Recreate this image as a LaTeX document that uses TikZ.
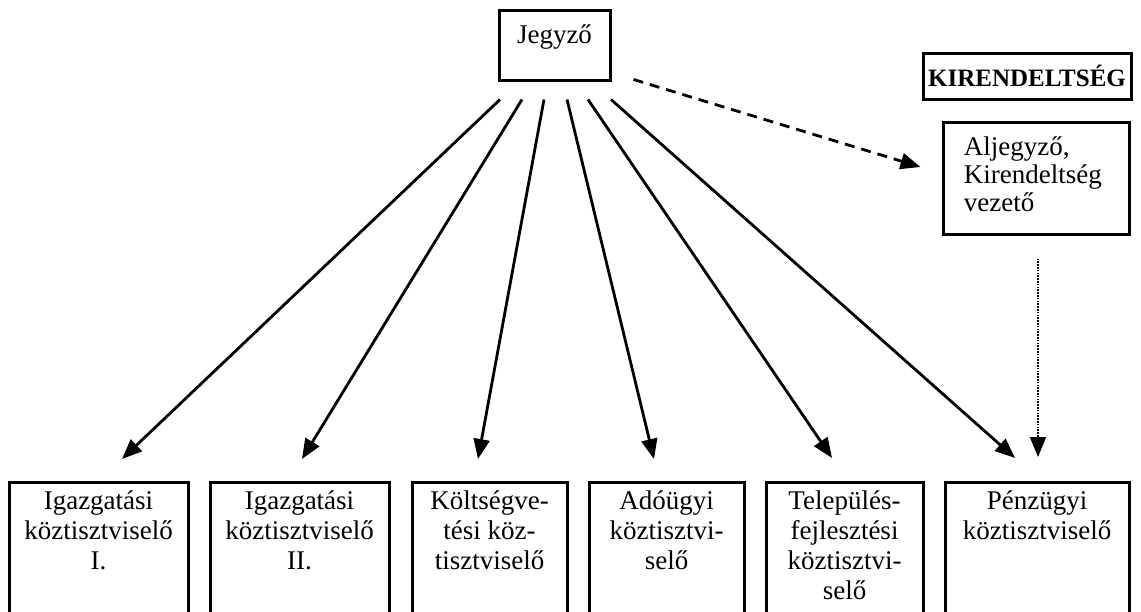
\documentclass[tikz,border=0pt]{standalone}
\usepackage{fontspec}
\setmainfont{Liberation Serif}
\usetikzlibrary{arrows.meta,calc}

\begin{document}
\begin{tikzpicture}[x=0.5pt,y=-0.5pt,
  box/.style={draw,line width=1.5pt,inner sep=0pt},
  unit/.style={box,anchor=north,minimum height=80pt},
  lbl/.style={anchor=north,align=center,inner xsep=0pt,inner ysep=4.5pt,
    font=\fontsize{13.5}{15}\selectfont},
  arr/.style={line width=1.4pt,-{Triangle[length=10pt,width=8pt]}}]

\useasboundingbox (0,0) rectangle (1141,611);
\clip (0,0) rectangle (1141,611);

% Top box
\node[box,minimum width=55.5pt,inner ysep=7pt,text height=9.5pt,text depth=11.5pt,
  font=\fontsize{13.5}{15}\selectfont] (jegyzo) at (554.5,45) {Jegyző};

% Branch office
\node[box,minimum width=104pt,minimum height=23pt,font=\fontsize{12.5}{14}\selectfont\bfseries]
  (kirend) at (1027,76) {KIRENDELTSÉG};
\node[box,minimum width=93pt,minimum height=56pt,
  label={[anchor=north west,align=left,inner xsep=11pt,inner ysep=8pt,
    font=\fontsize{13.5}{14}\selectfont]north west:{Aljegyző,\\Kirendeltség\\vezető}}]
  (aljegyzo) at (1036,178) {};

% Bottom row
\node[unit,minimum width=89.5pt,label={[lbl]north:{Igazgatási\\köztisztviselő\\I.}}]
  (igaz1) at (98.5,481) {};
\node[unit,minimum width=89.5pt,label={[lbl]north:{Igazgatási\\köztisztviselő\\II.}}]
  (igaz2) at (299.5,481) {};
\node[unit,minimum width=77.5pt,label={[lbl]north:{Költségve-\\tési köz-\\tisztviselő}}]
  (koltseg) at (489.5,481) {};
\node[unit,minimum width=77.5pt,label={[lbl]north:{Adóügyi\\köztisztvi-\\selő}}]
  (adougy) at (666.5,481) {};
\node[unit,minimum width=78.5pt,label={[lbl]north:{Település-\\fejlesztési\\köztisztvi-\\selő}}]
  (telep) at (844.5,481) {};
\node[unit,minimum width=92pt,label={[lbl]north:{Pénzügyi\\köztisztviselő}}]
  (penzugy) at (1037,481) {};

% Arrows from the top box
\draw[arr] ($(jegyzo.south)+(-54.5,18)$) -- ($(igaz1.north)+(23.5,-22)$);
\draw[arr] ($(jegyzo.south)+(-32.5,18)$) -- ($(igaz2.north)+(2.5,-22)$);
\draw[arr] ($(jegyzo.south)+(-10.5,18)$) -- ($(koltseg.north)+(-11.5,-22)$);
\draw[arr] ($(jegyzo.south)+(12.5,18)$) -- ($(adougy.north)+(-12.5,-22)$);
\draw[arr] ($(jegyzo.south)+(33.5,18)$) -- ($(telep.north)+(-12.5,-23)$);
\draw[arr] ($(jegyzo.south)+(56.5,18)$) -- ($(penzugy.north)+(-22,-23)$);

% Dashed and dotted links
\draw[arr,dash pattern=on 5pt off 3.5pt]
  ($(jegyzo.south east)+(22,-2)$) -- ($(aljegyzo.west)+(-21,-11)$);
\draw[arr,line width=0.8pt,dash pattern=on 0.8pt off 0.6pt]
  ($(aljegyzo.south)+(2,23)$) -- ($(penzugy.north)+(1,-24)$);

\end{tikzpicture}
\end{document}
